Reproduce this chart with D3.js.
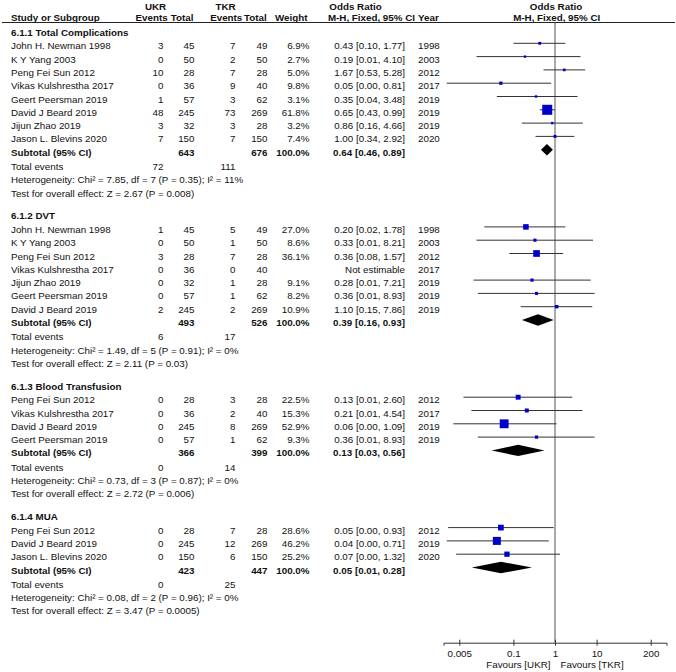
<!DOCTYPE html>
<html><head><meta charset="utf-8">
<script src="https://cdn.jsdelivr.net/npm/d3@7"></script>
<style>
html,body{margin:0;padding:0;background:#fff;}
svg{display:block;font-family:"Liberation Sans",Arial,sans-serif;}
</style></head>
<body><svg id="c" width="676" height="672"></svg>
<script>
// ---- data ----
const subgroups = ["6.1.1 Total Complications", "6.1.2 DVT", "6.1.3 Blood Transfusion", "6.1.4 MUA"];
const studyGroup = [0,0,0,0,0,0,0,0, 1,1,1,1,1,1,1, 2,2,2,2, 3,3,3];
const studyNames = [
  "John H. Newman 1998","K Y Yang 2003","Peng Fei Sun 2012","Vikas Kulshrestha 2017","Geert Peersman 2019","David J Beard 2019","Jijun Zhao 2019","Jason L. Blevins 2020",
  "John H. Newman 1998","K Y Yang 2003","Peng Fei Sun 2012","Vikas Kulshrestha 2017","Jijun Zhao 2019","Geert Peersman 2019","David J Beard 2019",
  "Peng Fei Sun 2012","Vikas Kulshrestha 2017","David J Beard 2019","Geert Peersman 2019",
  "Peng Fei Sun 2012","David J Beard 2019","Jason L. Blevins 2020"];
const ukrEvents = [3,0,10,0,1,48,3,7, 1,0,3,0,0,0,2, 0,0,0,0, 0,0,0];
const ukrTotals = [45,50,28,36,57,245,32,150, 45,50,28,36,32,57,245, 28,36,245,57, 28,245,150];
const tkrEvents = [7,2,7,9,3,73,3,7, 5,1,7,0,1,1,2, 3,2,8,1, 7,12,6];
const tkrTotals = [49,50,28,40,62,269,28,150, 49,50,28,40,28,62,269, 28,40,269,62, 28,269,150];
const weights   = [6.9,2.7,5.0,9.8,3.1,61.8,3.2,7.4, 27.0,8.6,36.1,null,9.1,8.2,10.9, 22.5,15.3,52.9,9.3, 28.6,46.2,25.2];
const oddsRatios= [0.43,0.19,1.67,0.05,0.35,0.65,0.86,1.00, 0.20,0.33,0.36,null,0.28,0.36,1.10, 0.13,0.21,0.06,0.36, 0.05,0.04,0.07];
const ciLow     = [0.10,0.013,0.53,0.0025,0.04,0.43,0.16,0.34, 0.02,0.013,0.08,null,0.011,0.014,0.15, 0.0063,0.0098,0.0036,0.014, 0.0027,0.0025,0.0042];
const ciHigh    = [1.77,4.10,5.28,0.81,3.48,0.99,4.66,2.92, 1.78,8.21,1.57,null,7.21,8.93,7.86, 2.60,4.54,1.09,8.93, 0.93,0.71,1.32];
const years     = [1998,2003,2012,2017,2019,2019,2019,2020, 1998,2003,2012,2017,2019,2019,2019, 2012,2017,2019,2019, 2012,2019,2020];

const subUkrTotals = [643,493,366,423];
const subTkrTotals = [676,526,399,447];
const subOdds  = [0.64,0.39,0.13,0.05];
const subLow   = [0.46,0.16,0.03,0.01];
const subHigh  = [0.89,0.93,0.56,0.28];
const totUkrEvents = [72,6,0,0];
const totTkrEvents = [111,17,14,25];
const hetTexts = [
  "Heterogeneity: Chi² = 7.85, df = 7 (P = 0.35); I² = 11%",
  "Heterogeneity: Chi² = 1.49, df = 5 (P = 0.91); I² = 0%",
  "Heterogeneity: Chi² = 0.73, df = 3 (P = 0.87); I² = 0%",
  "Heterogeneity: Chi² = 0.08, df = 2 (P = 0.96); I² = 0%"];
const effectTexts = [
  "Test for overall effect: Z = 2.67 (P = 0.008)",
  "Test for overall effect: Z = 2.11 (P = 0.03)",
  "Test for overall effect: Z = 2.72 (P = 0.006)",
  "Test for overall effect: Z = 3.47 (P = 0.0005)"];
const tickValues = [0.005, 0.1, 1, 10, 200];
const tickLabels = ["0.005","0.1","1","10","200"];

// ---- layout ----
const FS = 9.8;
const svg = d3.select("#c");
const x = d3.scaleLog().domain([0.005, 200]).range([459.27, 650.73]);
const size = d3.scaleLinear().domain([0, 100]).range([2, 15]);
const f2 = d3.format(".2f"), f1 = d3.format(".1f");
const col = {name: 11, ue: 163.5, ut: 194.5, te: 235.5, tt: 267.5, w: 309.5, ci: 405, yr: 418};
const PITCH = 13.3;
const TXT = 3.5, MK = -2.5;
const ciText = (o,l,h) => `${f2(o)} [${f2(l)}, ${f2(h)}]`;

function text(xp, y, s, opt = {}) {
  return svg.append("text").attr("x", xp).attr("y", y + TXT)
    .attr("font-size", FS).attr("fill", "#111")
    .attr("font-weight", opt.bold ? "bold" : null)
    .attr("text-anchor", opt.anchor || "start").text(s);
}

// headers
text(155.5, 6, "UKR", {bold: true, anchor: "middle"});
text(225.5, 6, "TKR", {bold: true, anchor: "middle"});
text(355.5, 6, "Odds Ratio", {bold: true, anchor: "middle"});
text(556, 6, "Odds Ratio", {bold: true, anchor: "middle"});
const hy = 17.5;
text(11, hy, "Study or Subgroup", {bold: true});
text(167.7, hy, "Events", {bold: true, anchor: "end"});
text(193.5, hy, "Total", {bold: true, anchor: "end"});
text(242.3, hy, "Events", {bold: true, anchor: "end"});
text(266.7, hy, "Total", {bold: true, anchor: "end"});
text(307.5, hy, "Weight", {bold: true, anchor: "end"});
text(415, hy, "M-H, Fixed, 95% CI", {bold: true, anchor: "end"});
text(418, hy, "Year", {bold: true});
text(556.7, hy, "M-H, Fixed, 95% CI", {bold: true, anchor: "middle"});
svg.append("line").attr("x1", 2).attr("x2", 675).attr("y1", 22.5).attr("y2", 22.5)
  .attr("stroke", "#222").attr("stroke-width", 1);

// vertical line of no effect
const axisY = 642.7;
svg.append("line").attr("x1", x(1)).attr("x2", x(1)).attr("y1", 22.5).attr("y2", axisY)
  .attr("stroke", "#555").attr("stroke-width", 1);

const gMarks = svg.append("g");
let yFirst = 45.8;
subgroups.forEach((sg, g) => {
  text(col.name, yFirst - 13.5, sg, {bold: true});
  const idx = d3.range(studyGroup.length).filter(i => studyGroup[i] === g);
  idx.forEach((i, k) => {
    const y = yFirst + k * PITCH;
    text(col.name, y, studyNames[i]);
    text(col.ue, y, ukrEvents[i], {anchor: "end"});
    text(col.ut, y, ukrTotals[i], {anchor: "end"});
    text(col.te, y, tkrEvents[i], {anchor: "end"});
    text(col.tt, y, tkrTotals[i], {anchor: "end"});
    if (weights[i] != null) text(col.w, y, f1(weights[i]) + "%", {anchor: "end"});
    if (oddsRatios[i] != null) {
      text(col.ci, y, ciText(oddsRatios[i], ciLow[i], ciHigh[i]), {anchor: "end"});
      const my = y + MK;
      gMarks.append("line").attr("x1", x(ciLow[i])).attr("x2", x(ciHigh[i]))
        .attr("y1", my).attr("y2", my).attr("stroke", "#333").attr("stroke-width", 1);
      const s = size(weights[i]);
      gMarks.append("rect").attr("x", x(oddsRatios[i]) - s/2).attr("y", my - s/2)
        .attr("width", s).attr("height", s).attr("fill", "#0000cc");
    } else {
      text(col.ci, y, "Not estimable", {anchor: "end"});
    }
    text(col.yr, y, years[i]);
  });
  let y = yFirst + idx.length * PITCH;
  text(col.name, y, "Subtotal (95% CI)", {bold: true});
  text(col.ut, y, subUkrTotals[g], {bold: true, anchor: "end"});
  text(col.tt, y, subTkrTotals[g], {bold: true, anchor: "end"});
  text(col.w, y, "100.0%", {bold: true, anchor: "end"});
  text(col.ci, y, ciText(subOdds[g], subLow[g], subHigh[g]), {bold: true, anchor: "end"});
  const dy = y + MK, h = 5.7;
  gMarks.append("path").attr("fill", "#000")
    .attr("d", `M${x(subLow[g])},${dy} L${x(subOdds[g])},${dy - h} L${x(subHigh[g])},${dy} L${x(subOdds[g])},${dy + h} Z`);
  y += PITCH + 1;
  text(col.name, y, "Total events");
  text(col.ue, y, totUkrEvents[g], {anchor: "end"});
  text(col.te, y, totTkrEvents[g], {anchor: "end"});
  y += PITCH;
  text(col.name, y, hetTexts[g]);
  y += PITCH;
  text(col.name, y, effectTexts[g]);
  yFirst = y + 22.8 + 13.5;
});

// axis
const xa = x.copy().domain([x.invert(443.5), x.invert(666.5)]).range([443.5, 666.5]);
const ax = svg.append("g").attr("transform", `translate(0,${axisY})`)
  .call(d3.axisBottom(xa).tickValues(tickValues).tickFormat((d, i) => tickLabels[i]).tickSizeOuter(0).tickSize(3));
ax.select(".domain").attr("stroke", "#333");
ax.selectAll(".tick line").attr("y1", -3).attr("y2", 3).attr("stroke", "#333");
ax.selectAll(".tick text").attr("y", 7).attr("font-size", FS)
  .attr("font-family", "Liberation Sans, Arial, sans-serif").attr("fill", "#111");
text(550.5, 664, "Favours [UKR]", {anchor: "end"});
text(560.5, 664, "Favours [TKR]");
</script></body></html>
